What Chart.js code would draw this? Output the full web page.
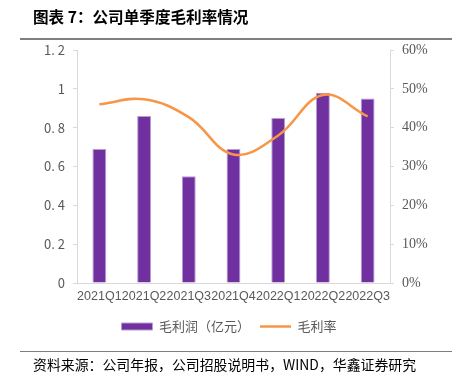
<!DOCTYPE html>
<html><head><meta charset="utf-8">
<script src="https://cdn.jsdelivr.net/npm/chart.js@4/dist/chart.umd.min.js"></script>
<style>
html,body{margin:0;padding:0;background:#fff;}
#wrap{position:relative;width:458px;height:383px;overflow:hidden;}
#c{position:absolute;left:0;top:0;}
.t{position:absolute;font-family:"Noto Sans CJK SC";white-space:nowrap;color:#000;}
#title{left:33px;top:5px;font-size:15.6px;font-weight:bold;}
#rule1{position:absolute;left:20px;top:38px;width:432px;height:2px;background:#7f7f7f;}
#rule2{position:absolute;left:20px;top:351px;width:432px;height:1px;background:#7f7f7f;}
#foot{left:33px;top:354px;font-size:13.9px;}
</style></head>
<body><div id="wrap">
<canvas id="c" width="458" height="383"></canvas>
<div class="t" id="title">图表 7：公司单季度毛利率情况</div>
<div id="rule1"></div>
<div id="rule2"></div>
<div class="t" id="foot">资料来源：公司年报，公司招股说明书，WIND，华鑫证券研究</div>
</div>
<script>
const categories = ['2021Q1','2021Q2','2021Q3','2021Q4','2022Q1','2022Q2','2022Q3'];
const grossProfit = [0.69, 0.86, 0.55, 0.69, 0.85, 0.98, 0.95];
const grossMargin = [46.0, 47.3, 42.7, 33.1, 38.0, 48.4, 42.9];
const leftTickLabels = ['0','0. 2','0. 4','0. 6','0. 8','1','1. 2'];
const rightTickLabels = ['0%','10%','20%','30%','40%','50%','60%'];
const seriesNames = ['毛利润（亿元）','毛利率'];

new Chart(document.getElementById('c'), {
  data: {
    labels: categories,
    datasets: [
      {type:'line', label: seriesNames[1], data: grossMargin, yAxisID:'y1',
       borderColor:'#F79646', backgroundColor:'#F79646', borderWidth:2.5,
       pointRadius:0, tension:0.4, pointStyle:'line', order:0},
      {type:'bar', label: seriesNames[0], data: grossProfit, yAxisID:'y',
       backgroundColor:'#7030A0', borderColor:'#B89CD0', borderWidth:1,
       barPercentage:0.31, categoryPercentage:1, pointStyle:'rect', order:1}
    ]
  },
  options: {
    responsive:false, animation:false,
    layout:{padding:{top:50,left:0,right:0,bottom:40}},
    plugins:{
      legend:{position:'bottom', reverse:true,
        labels:{usePointStyle:true, pointStyleWidth:31, boxHeight:7, padding:10,
          color:'#595959', font:{family:'"Noto Sans CJK SC"', size:13}}},
      tooltip:{enabled:false}
    },
    scales:{
      x:{grid:{display:false, drawTicks:false}, border:{color:'#d9d9d9'},
         ticks:{autoSkip:false, maxRotation:0, minRotation:0, padding:6, color:'#595959',
           font:{family:'"Liberation Sans"', size:12.5}}},
      y:{position:'left', min:0, max:1.2,
         grid:{drawOnChartArea:false, drawTicks:true, tickLength:4, color:'#d9d9d9'},
         border:{color:'#d9d9d9'},
         ticks:{stepSize:0.2, padding:8, color:'#595959',
           font:{family:'"Noto Sans CJK SC"', size:13},
           callback:(v)=>leftTickLabels[Math.round(v/0.2)]},
         afterFit:(s)=>{s.width=77;}},
      y1:{position:'right', min:0, max:60,
         grid:{drawOnChartArea:false, drawTicks:true, tickLength:4, color:'#d9d9d9'},
         border:{color:'#d9d9d9'},
         ticks:{stepSize:10, padding:8, color:'#595959',
           font:{family:'"Liberation Serif"', size:14},
           callback:(v)=>rightTickLabels[Math.round(v/10)]},
         afterFit:(s)=>{s.width=68;}}
    }
  }
});
</script>
</body></html>
